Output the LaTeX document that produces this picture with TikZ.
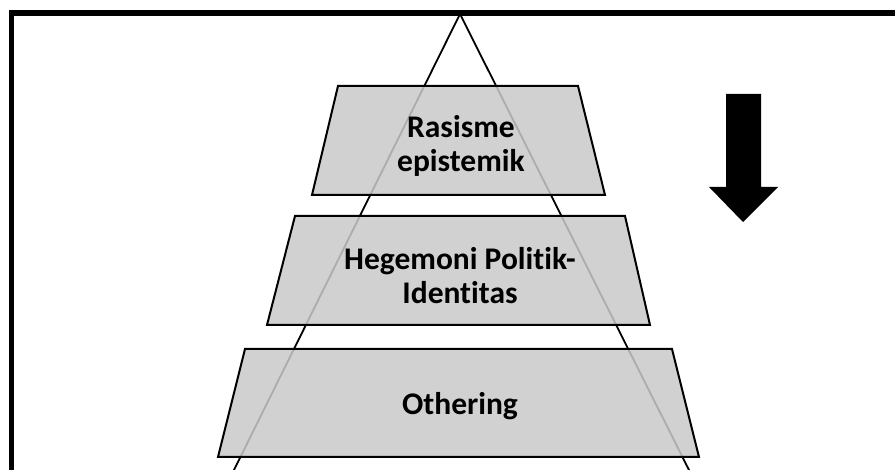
\documentclass[tikz,border=0pt]{standalone}
\usepackage{fontspec}
\setmainfont{Carlito}[Ligatures=NoCommon]
\begin{document}
\begin{tikzpicture}[x=1pt,y=-1pt,
  layer/.style={draw=black,line width=2pt,fill=black!21,fill opacity=0.86,line join=miter},
  lbl/.style={font=\fontsize{31.5}{34}\selectfont\bfseries,align=center,text=black,inner sep=0pt},
  frame/.style={line width=5.5pt,line join=miter}]
\useasboundingbox (0,0) rectangle (895,470);
% outer frame (left and top only)
\draw[frame] (11.5,475) -- (11.5,13) -- (900,13);
% pyramid outline
\coordinate (apex) at (460,14);
\coordinate (bl) at (233,472);
\coordinate (br) at (690,472);
\draw[line width=1.8pt] (bl) -- (apex) -- (br);
% layers
\draw[layer] (338,86) -- (578,86) -- (605,195) -- (312,195) -- cycle;
\draw[layer] (295,216) -- (625,216) -- (650,325) -- (267,325) -- cycle;
\draw[layer] (245,349) -- (672,349) -- (699,457) -- (218,457) -- cycle;
% labels
\node[lbl] (t1) at (461,146) {Rasisme\\epistemik};
\node[lbl] (t2) at (460,276) {Hegemoni Politik-\\Identitas};
\node[lbl] (t3) at (460,406) {Othering};
% arrow
\fill[black] (726,94) -- (761,94) -- (761,187) -- (778,187) -- (743,222) -- (709,187) -- (726,187) -- cycle;
\end{tikzpicture}
\end{document}
